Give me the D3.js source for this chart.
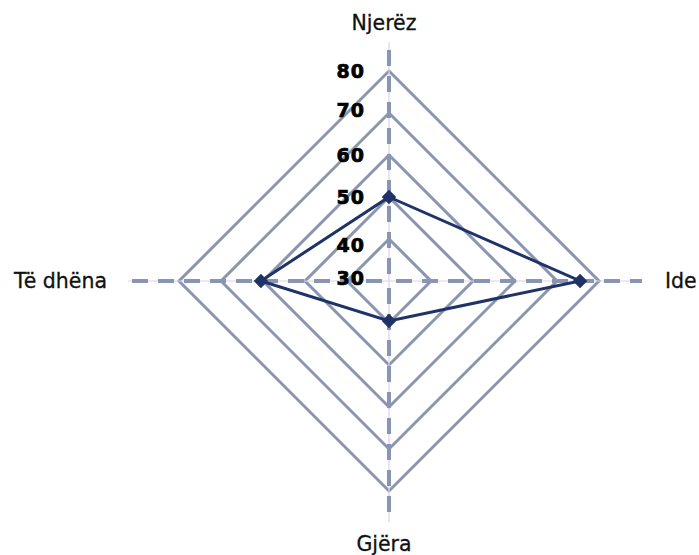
<!DOCTYPE html>
<html>
<head>
<meta charset="utf-8">
<script src="https://cdn.jsdelivr.net/npm/d3@7"></script>
<style>
  html, body { margin: 0; padding: 0; background: #fff; }
  svg { display: block; }
</style>
</head>
<body>
<svg id="chart" width="699" height="555"></svg>
<script>
const categories = ["Njerëz", "Ide", "Gjëra", "Të dhëna"];
const values = [50, 75.5, 39.5, 60.5];
const gridLevels = [40, 50, 60, 70, 80];
const tickLabels = [30, 40, 50, 60, 70, 80];

const W = 699, H = 555;
const cx = 389, cy = 281;
const R = 210;
const svg = d3.select("#chart");

const r = d3.scaleLinear().domain([30, 80]).range([0, R]);
const angle = d3.scaleBand().domain(categories).range([0, 2 * Math.PI]);
const ang = c => angle(c);
const pt = (c, v) => [cx + Math.sin(ang(c)) * r(v), cy - Math.cos(ang(c)) * r(v)];

const g = svg.append("g");

// grid diamonds
const closedLine = d3.line().curve(d3.curveLinearClosed);
g.selectAll("path.grid").data(gridLevels).join("path")
  .attr("class", "grid")
  .attr("d", lv => closedLine(categories.map(c => pt(c, lv))))
  .attr("fill", "none")
  .attr("stroke", "#8a95b2")
  .attr("stroke-width", 3);

// axes
const axisExt = { "Njerëz": 239, "Ide": 253, "Gjëra": 241, "Të dhëna": 261 };
const axisEnd = c => [cx + Math.sin(ang(c)) * axisExt[c], cy - Math.cos(ang(c)) * axisExt[c]];
g.selectAll("line.thin").data(categories).join("line")
  .attr("class", "thin")
  .attr("x1", cx).attr("y1", cy)
  .attr("x2", c => axisEnd(c)[0]).attr("y2", c => axisEnd(c)[1])
  .attr("stroke", "#dcd2ea").attr("stroke-width", 1.2);
g.selectAll("line.dash").data(categories).join("line")
  .attr("class", "dash")
  .attr("x1", cx).attr("y1", cy)
  .attr("x2", c => axisEnd(c)[0]).attr("y2", c => axisEnd(c)[1])
  .attr("stroke", "#8a95b2").attr("stroke-width", 4)
  .attr("stroke-dasharray", "16 10")
  .attr("stroke-dashoffset", -7);

// data polygon
g.append("path")
  .attr("d", closedLine(categories.map((c, i) => pt(c, values[i]))))
  .attr("fill", "none")
  .attr("stroke", "#1f3367")
  .attr("stroke-width", 3);

g.selectAll("path.mk").data(categories).join("path")
  .attr("class", "mk")
  .attr("transform", (c, i) => { const p = pt(c, values[i]); return `translate(${p[0]},${p[1]}) rotate(45)`; })
  .attr("d", d3.symbol().type(d3.symbolSquare).size(105))
  .attr("fill", "#1f3367");

// tick labels (small nudges to avoid collisions, as in the original)
const tickNudge = { 30: -3.5, 40: 6, 70: -3 };
g.selectAll("text.tick").data(tickLabels).join("text")
  .attr("class", "tick")
  .attr("x", 365)
  .attr("y", v => cy - r(v) + (tickNudge[v] || 0) + 7)
  .attr("text-anchor", "end")
  .attr("font-family", "DejaVu Sans")
  .attr("font-weight", "bold")
  .attr("font-size", 19)
  .attr("letter-spacing", 1)
  .attr("fill", "#000")
  .attr("stroke", "#000")
  .attr("stroke-width", 0.7)
  .text(v => v);

// category labels
const labelPos = {
  "Njerëz": { x: 384, y: 30, anchor: "middle" },
  "Ide": { x: 665, y: 288, anchor: "start" },
  "Gjëra": { x: 384, y: 551, anchor: "middle" },
  "Të dhëna": { x: 107, y: 288, anchor: "end" }
};
g.selectAll("text.cat").data(categories).join("text")
  .attr("class", "cat")
  .attr("x", c => labelPos[c].x)
  .attr("y", c => labelPos[c].y)
  .attr("text-anchor", c => labelPos[c].anchor)
  .attr("font-family", "DejaVu Sans")
  .attr("font-size", 20.5)
  .attr("fill", "#111")
  .attr("stroke", "#111")
  .attr("stroke-width", 0.3)
  .text(c => c);
</script>
</body>
</html>
